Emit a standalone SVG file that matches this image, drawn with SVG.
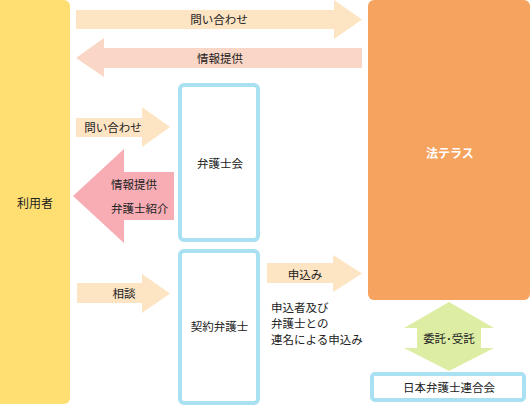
<svg xmlns="http://www.w3.org/2000/svg" width="530" height="405" viewBox="0 0 530 405">
<style>
text{font-family:"Noto Sans CJK JP","Noto Sans",sans-serif;font-size:11.5px;fill:#222;dominant-baseline:central}
.c{text-anchor:middle}
.box{fill:#fff;stroke:#A9E0F2;stroke-width:4}
.peach{fill:#FDE4C3}
.pinkpeach{fill:#F9D6C6}
.pink{fill:#F8ADB5}
.green{fill:#DDEEA4}
</style>
<rect width="530" height="405" fill="#fff"/>
<g id="node-riyousha">
<rect x="-10" y="0" width="80" height="404" rx="6" fill="#FFDF72"/>
<text class="c" x="35" y="202" style="font-size:12px">利用者</text>
</g>
<g id="node-houterasu">
<rect x="368" y="0" width="162" height="300" rx="6" fill="#F5A35F"/>
<text class="c" x="450" y="152" style="font-size:12px;font-weight:bold;fill:#fff">法テラス</text>
</g>
<g id="node-bengoshikai">
<rect class="box" x="180" y="85" width="78" height="155" rx="4"/>
<text class="c" x="220" y="163">弁護士会</text>
</g>
<g id="node-keiyaku">
<rect class="box" x="180" y="251" width="78" height="152" rx="4"/>
<text class="c" x="219.5" y="326">契約弁護士</text>
</g>
<g id="node-nichibenren">
<rect class="box" x="372" y="374" width="152" height="26" rx="3"/>
<text class="c" x="449" y="387">日本弁護士連合会</text>
</g>
<g id="connectors">
<polygon class="peach" points="76,10 334,10 334,0 362,19.5 334,39 334,29 76,29"/>
<text class="c" x="219" y="19">問い合わせ</text>
<polygon class="pinkpeach" points="362,48 104,48 104,38 76,58 104,77 104,68 362,68"/>
<text class="c" x="220" y="58">情報提供</text>
<polygon class="peach" points="76,118 142,118 142,107 170,127 142,147 142,137 76,137"/>
<text class="c" x="113" y="127">問い合わせ</text>
<polygon class="pink" points="174,172 124,172 124,149 73,196 124,243 124,220 174,220"/>
<text x="111" y="184">情報提供</text>
<text x="111" y="208">弁護士紹介</text>
<polygon class="peach" points="77,283 142,283 142,274 170,293.5 142,313 142,303 77,303"/>
<text class="c" x="124" y="293">相談</text>
<polygon class="peach" points="267,263 333,263 333,255 362,273.5 333,292 333,283 267,283"/>
<text class="c" x="305" y="274">申込み</text>
<text x="271" y="307">申込者及び</text>
<text x="271" y="323">弁護士との</text>
<text x="271" y="339">連名による申込み</text>
<polygon class="green" points="449,302 494,328 481,328 481,348 494,348 449,371 404,348 417,348 417,328 404,328"/>
<text class="c" x="449" y="338">委託･受託</text>
</g>
</svg>
